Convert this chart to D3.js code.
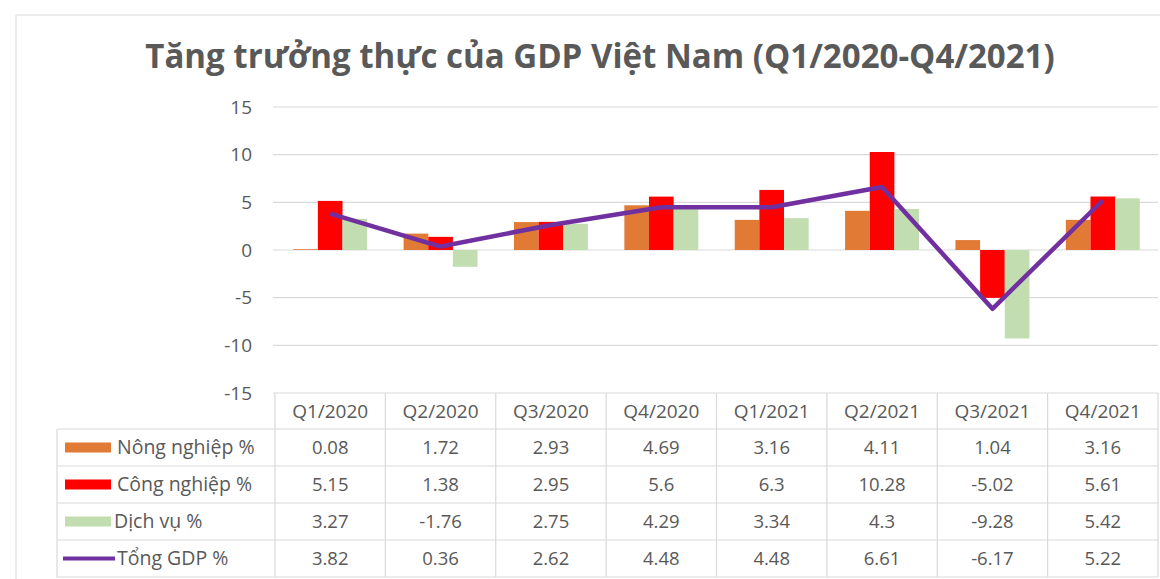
<!DOCTYPE html>
<html>
  <head>
    <meta charset="utf-8">
    <title>Tăng trưởng thực của GDP Việt Nam</title>
    <script src="https://cdn.jsdelivr.net/npm/d3@7"></script>
    <style type="text/css">
      body { margin: 0; background: #fff; }
      svg text { font-family: "Open Sans", "Noto Sans", sans-serif; fill: #595959; }
    </style>
  </head>
  <body>
    <script>
    // data
    var quarters = ["Q1/2020", "Q2/2020", "Q3/2020", "Q4/2020", "Q1/2021", "Q2/2021", "Q3/2021", "Q4/2021"];
    var nongNghiep = [0.08, 1.72, 2.93, 4.69, 3.16, 4.11, 1.04, 3.16];
    var congNghiep = [5.15, 1.38, 2.95, 5.6, 6.3, 10.28, -5.02, 5.61];
    var dichVu = [3.27, -1.76, 2.75, 4.29, 3.34, 4.3, -9.28, 5.42];
    var tongGDP = [3.82, 0.36, 2.62, 4.48, 4.48, 6.61, -6.17, 5.22];
    var yTicks = [-15, -10, -5, 0, 5, 10, 15];

    var barSeries = [
      {name: "Nông nghiệp %", values: nongNghiep, color: "#e07a35"},
      {name: "Công nghiệp %", values: congNghiep, color: "#ff0000"},
      {name: "Dịch vụ %", values: dichVu, color: "#c2ddb0"}
    ];
    var lineSeries = {name: "Tổng GDP %", values: tongGDP, color: "#7030a0"};

    var width = 1160, height = 579;
    var plot = {left: 275, right: 1158, top: 107, bottom: 393};
    var table = {left: 57, rowH: 37, headerH: 36};

    var svg = d3.select("body").append("svg")
        .attr("width", width)
        .attr("height", height);

    // chart frame
    svg.append("rect")
        .attr("x", 16).attr("y", 15)
        .attr("width", width).attr("height", height)
        .attr("fill", "none")
        .attr("stroke", "#d9d9d9");

    // title
    var title = svg.append("text")
        .attr("x", 600).attr("y", 68)
        .attr("text-anchor", "middle")
        .style("font-weight", "bold")
        .style("font-size", "28px")
        .text("Tăng trưởng thực của GDP Việt Nam (Q1/2020-Q4/2021)");
    // fit to the width seen in the picture
    var tw = title.node().getComputedTextLength();
    title.style("font-size", (28 * 910 / tw) + "px");

    var x = d3.scaleBand()
        .domain(quarters)
        .range([plot.left, plot.right]);

    var xInner = d3.scaleBand()
        .domain(barSeries.map(function(s) { return s.name; }))
        .range([x.bandwidth() * 0.165, x.bandwidth() * 0.835]);

    var y = d3.scaleLinear()
        .domain([-15, 15])
        .range([plot.bottom, plot.top]);

    // gridlines
    svg.append("g")
      .selectAll("line")
      .data(yTicks)
      .enter().append("line")
        .attr("x1", plot.left - 2)
        .attr("x2", plot.right)
        .attr("y1", function(d) { return y(d); })
        .attr("y2", function(d) { return y(d); })
        .attr("stroke", "#d9d9d9")
        .attr("stroke-width", 1.2);

    // y axis labels (plain hyphen for negatives, like the original)
    var yAxis = svg.append("g")
        .attr("transform", "translate(" + (plot.left - 12) + ",0)")
        .call(d3.axisLeft(y).tickValues(yTicks).tickSize(0).tickPadding(11)
          .tickFormat(function(d) { return String(d); }));
    yAxis.select(".domain").remove();
    yAxis.selectAll("text")
        .style("font-size", "19px")
        .style("fill", "#595959");

    // bars
    barSeries.forEach(function(s) {
      svg.append("g")
        .selectAll("rect")
        .data(s.values)
        .enter().append("rect")
          .attr("x", function(d, i) { return x(quarters[i]) + xInner(s.name); })
          .attr("y", function(d) { return y(Math.max(0, d)); })
          .attr("width", xInner.bandwidth())
          .attr("height", function(d) { return Math.abs(y(d) - y(0)); })
          .attr("fill", s.color);
    });

    // total GDP line
    var line = d3.line()
        .x(function(d, i) { return x(quarters[i]) + x.bandwidth() / 2; })
        .y(function(d) { return y(d); });

    svg.append("path")
        .datum(lineSeries.values)
        .attr("d", line)
        .attr("fill", "none")
        .attr("stroke", lineSeries.color)
        .attr("stroke-width", 4.5)
        .attr("stroke-linejoin", "round");

    // data table
    var rows = barSeries.concat([lineSeries]);
    var tTop = plot.bottom;
    var bodyTop = tTop + table.headerH;
    var tBottom = bodyTop + rows.length * table.rowH;
    var tg = svg.append("g");

    // vertical borders between quarter columns
    tg.selectAll(".vline")
      .data(quarters.concat(["end"]))
      .enter().append("line")
        .attr("x1", function(d, i) { return i < quarters.length ? x(d) : plot.right; })
        .attr("x2", function(d, i) { return i < quarters.length ? x(d) : plot.right; })
        .attr("y1", tTop)
        .attr("y2", tBottom)
        .attr("stroke", "#d9d9d9")
        .attr("stroke-width", 1.2);

    // legend column left border
    tg.append("line")
        .attr("x1", table.left).attr("x2", table.left)
        .attr("y1", bodyTop).attr("y2", tBottom)
        .attr("stroke", "#d9d9d9").attr("stroke-width", 1.2);

    // horizontal borders
    tg.selectAll(".hline")
      .data(d3.range(rows.length + 1))
      .enter().append("line")
        .attr("x1", table.left)
        .attr("x2", plot.right)
        .attr("y1", function(d) { return bodyTop + d * table.rowH; })
        .attr("y2", function(d) { return bodyTop + d * table.rowH; })
        .attr("stroke", "#d9d9d9")
        .attr("stroke-width", 1.2);

    // header labels
    tg.selectAll(".head")
      .data(quarters)
      .enter().append("text")
        .attr("x", function(d) { return x(d) + x.bandwidth() / 2; })
        .attr("y", tTop + table.headerH / 2)
        .attr("dy", "0.35em")
        .attr("text-anchor", "middle")
        .style("font-size", "19px")
        .text(function(d) { return d; });

    rows.forEach(function(s, r) {
      var cy = bodyTop + r * table.rowH + table.rowH / 2;
      // legend key
      if (s === lineSeries) {
        tg.append("line")
            .attr("x1", 63).attr("x2", 115)
            .attr("y1", cy).attr("y2", cy)
            .attr("stroke", s.color)
            .attr("stroke-width", 4);
      } else {
        tg.append("rect")
            .attr("x", 65).attr("y", cy - 5)
            .attr("width", 46).attr("height", 10)
            .attr("fill", s.color);
      }
      tg.append("text")
          .attr("x", s === barSeries[2] ? 114 : 117)
          .attr("y", cy)
          .attr("dy", "0.35em")
          .style("font-size", "19.5px")
          .text(s.name);

      tg.selectAll(null)
        .data(s.values)
        .enter().append("text")
          .attr("x", function(d, i) { return x(quarters[i]) + x.bandwidth() / 2; })
          .attr("y", cy)
          .attr("dy", "0.35em")
          .attr("text-anchor", "middle")
          .style("font-size", "18.5px")
          .text(function(d) { return d; });
    });

    </script>
  </body>
</html>
